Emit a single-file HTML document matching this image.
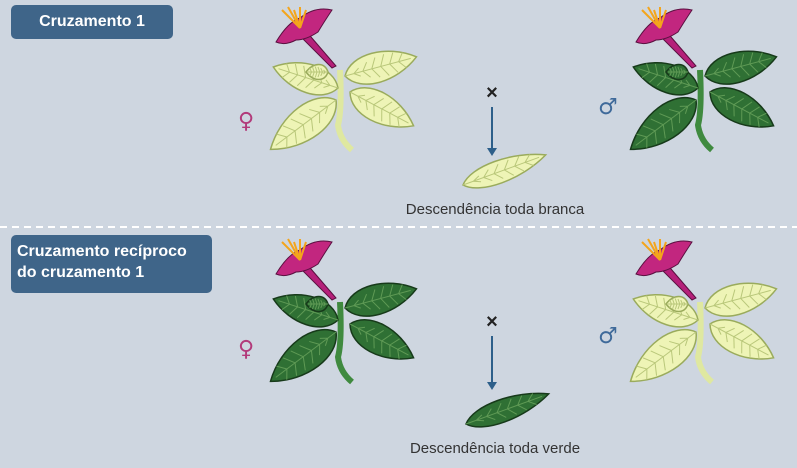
<!DOCTYPE html>
<html><head><meta charset="utf-8"><style>
body{margin:0;background:#ced6e0;}
#c{position:relative;width:797px;height:468px;overflow:hidden;background:#ced6e0;font-family:"Liberation Sans",sans-serif;}
.badge{position:absolute;background:#3f6589;color:#fff;border-radius:5px;font-weight:bold;font-size:15px;line-height:18px;}
.lbl{position:absolute;color:#333;font-size:15px;white-space:nowrap;transform:translateX(-50%);}
svg{position:absolute;left:0;top:0;}
</style></head><body>
<div id="c">
<svg id="s" width="797" height="468">
<line x1="0" y1="227" x2="797" y2="227" stroke="#fff" stroke-width="2" stroke-dasharray="7,5"/>
<text x="492" y="99" font-size="20" font-family="Liberation Sans" font-weight="bold" fill="#222" text-anchor="middle">×</text>
<line x1="492" y1="107" x2="492" y2="150" stroke="#2d5f8a" stroke-width="2"/>
<path d="M487,148 L497,148 L492,156Z" fill="#2d5f8a"/>
<text x="492" y="328" font-size="20" font-family="Liberation Sans" font-weight="bold" fill="#222" text-anchor="middle">×</text>
<line x1="492" y1="336" x2="492" y2="384" stroke="#2d5f8a" stroke-width="2"/>
<path d="M487,382 L497,382 L492,390Z" fill="#2d5f8a"/>
<text x="246" y="128" font-size="22" fill="#b23a7a" text-anchor="middle" font-family="DejaVu Sans">♀</text>
<text x="608" y="114" font-size="22" fill="#3f6a9a" text-anchor="middle" font-family="DejaVu Sans">♂</text>
<text x="246" y="356" font-size="22" fill="#b23a7a" text-anchor="middle" font-family="DejaVu Sans">♀</text>
<text x="608" y="343" font-size="22" fill="#3f6a9a" text-anchor="middle" font-family="DejaVu Sans">♂</text>
</svg>
<div class="badge" style="left:11px;top:5px;width:162px;height:34px;line-height:34px;text-align:center;font-size:16px">Cruzamento 1</div>
<div class="badge" style="left:11px;top:235px;width:201px;height:58px;padding:6px 0 0 6px;box-sizing:border-box;font-size:16px;line-height:21px">Cruzamento recíproco<br>do cruzamento 1</div>
<div class="lbl" style="left:495px;top:201px">Descendência toda branca</div>
<div class="lbl" style="left:495px;top:440px">Descendência toda verde</div>
</div>
<script>
const NS='http://www.w3.org/2000/svg';
const s=document.getElementById('s');
const pale={f:'#eef4b6',s:'#9aab5c',v:'#b9c77a'}, dark={f:'#2f7034',s:'#173a1a',v:'#5f9a55'};
function leafPath(len,w){return `M0,0 C${len*0.15},${-w} ${len*0.65},${-w} ${len},0 C${len*0.65},${w} ${len*0.15},${w} 0,0Z`;}
function leaf(g,x,y,ang,len,w,c){
  const l=document.createElementNS(NS,'g');
  l.setAttribute('transform',`translate(${x},${y}) rotate(${ang})`);
  
  
  const p=document.createElementNS(NS,'path');
  p.setAttribute('d',leafPath(len,w));p.setAttribute('fill',c.f);p.setAttribute('stroke',c.s);p.setAttribute('stroke-width','1.5');
  l.appendChild(p);
  let d=`M0,0 L${len*0.92},0`;
  for(let i=1;i<7;i++){const t=len*i/8;const k=Math.sin(Math.PI*t/len)*w*0.55;d+=` M${t},0 L${t+len*0.08},${-k} M${t},0 L${t+len*0.08},${k}`;}
  const v=document.createElementNS(NS,'path');
  v.setAttribute('d',d);v.setAttribute('stroke',c.v);v.setAttribute('stroke-width','1');v.setAttribute('fill','none');
  l.appendChild(v);g.appendChild(l);
}
function plant(ox,oy,c,name){
  const g=document.createElementNS(NS,'g');
  g.setAttribute('transform',`translate(${ox},${oy})`);
  
  
  const st=document.createElementNS(NS,'path');
  st.setAttribute('d','M340,70 Q342,110 338,125 Q340,140 352,150');st.setAttribute('stroke',c===pale?'#dfe8a0':'#3f8a3f');st.setAttribute('stroke-width','6');st.setAttribute('fill','none');
  g.appendChild(st);
  leaf(g,338,88,-162,68,19,c);
  leaf(g,345,76,-15,74,20,c);
  leaf(g,336,100,143,82,22,c);
  leaf(g,350,92,28,72,20,c);
  leaf(g,328,72,180,22,10,c);
  const tube=document.createElementNS(NS,'path');
  tube.setAttribute('d','M305,30 L336,66 L332,68 L300,36Z');tube.setAttribute('fill','#b5207a');tube.setAttribute('stroke','#5a1040');
  g.appendChild(tube);
  const pet=document.createElementNS(NS,'path');
  pet.setAttribute('d','M276,42 Q288,22 300,18 Q315,6 332,10 Q324,22 318,32 Q306,40 296,40 Q285,46 276,42Z');
  pet.setAttribute('fill','#c2267f');pet.setAttribute('stroke','#5a1040');
  g.appendChild(pet);
  for(let i=0;i<5;i++){const ln=document.createElementNS(NS,'line');
    ln.setAttribute('x1',300);ln.setAttribute('y1',28);ln.setAttribute('x2',282+i*6);ln.setAttribute('y2',10-i%2*3);
    ln.setAttribute('stroke','#f4a51c');ln.setAttribute('stroke-width','2');g.appendChild(ln);}
  s.appendChild(g);
}
plant(0,0,pale,'female-plant-white');
plant(360,0,dark,'male-plant-green');
plant(0,232,dark,'female-plant-green');
plant(360,232,pale,'male-plant-white');
const f1=document.createElementNS(NS,'g');


s.appendChild(f1);leaf(f1,463,185,-20,88,15,pale);
const f2=document.createElementNS(NS,'g');


s.appendChild(f2);leaf(f2,466,424,-20,88,15,dark);
</script>
</body></html>
